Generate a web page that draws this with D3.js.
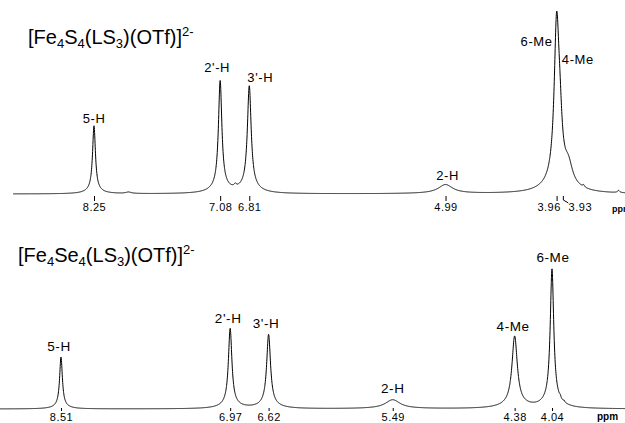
<!DOCTYPE html>
<html>
<head>
<meta charset="utf-8">
<script src="https://cdn.jsdelivr.net/npm/d3@7"></script>
<style>
  html, body { margin: 0; padding: 0; background: #fff; }
  svg { display: block; }
  text { font-family: "Liberation Sans", Arial, Helvetica, sans-serif; fill: #000; }
</style>
</head>
<body>
<svg id="chart" width="625" height="423"></svg>
<script>
// ---- [Fe4S4(LS3)(OTf)]2- : assigned resonances (ppm, relative intensity, half-width in ppm)
const s4Labels  = ["5-H", "2'-H", "3'-H", "2-H", "6-Me", "4-Me"];
const s4Shifts  = [8.25, 7.08, 6.81, 4.99, 3.96, 3.93];
const s4Heights = [37.6, 61.9, 59.1, 5.0, 87.3, 24.9];
const s4Widths  = [0.016, 0.019, 0.021, 0.080, 0.027, 0.026];
// small unassigned features of the same trace
const s4MinorShifts  = [7.93, 6.94, 3.85, 3.71, 3.385];
const s4MinorHeights = [0.8, 1.5, 11.0, 1.2, 1.2];
const s4MinorWidths  = [0.03, 0.012, 0.046, 0.01, 0.012];
const s4Window = [9.0, 3.32];          // ppm span of the recorded trace

// ---- [Fe4Se4(LS3)(OTf)]2-
const se4Labels  = ["5-H", "2'-H", "3'-H", "2-H", "4-Me", "6-Me"];
const se4Shifts  = [8.51, 6.97, 6.62, 5.49, 4.38, 4.04];
const se4Heights = [28.7, 44.2, 40.9, 5.0, 39.8, 76.8];
const se4Widths  = [0.015, 0.019, 0.021, 0.080, 0.029, 0.019];
const se4MinorShifts  = [3.965, 3.93];
const se4MinorHeights = [1.0, 0.8];
const se4MinorWidths  = [0.006, 0.006];
const se4Window = [9.065, 3.375];

// ---- layout (pixels) kept apart from the data
const panels = [
  {
    title: ["[Fe", "4", "S", "4", "(LS", "3", ")(OTf)]", "2-"],
    titleX: 28, titleY: 43.5,
    labels: s4Labels, shifts: s4Shifts, heights: s4Heights, widths: s4Widths,
    minorShifts: s4MinorShifts, minorHeights: s4MinorHeights, minorWidths: s4MinorWidths,
    window: s4Window,
    xAnchors: [8.25, 3.96], xPixels: [94, 556.6],
    baseline: 194, fullScale: 181,
    labelFont: 13,
    labelDx: [0, -3, 11, 2, -4, 2],
    labelDy: [-3, -9, -4, -5, 34, -4],
    labelAnchor: ["middle", "middle", "middle", "middle", "end", "start"],
    tickFont: 11, tickTop: 2, tickLen: 5, tickTextY: 17,
    tickDx: { "3.96": -8, "3.93": 20 },
    leader: "3.93",
    ppmX: 612, ppmY: 212, ppmFont: 9
  },
  {
    title: ["[Fe", "4", "Se", "4", "(LS", "3", ")(OTf)]", "2-"],
    titleX: 18, titleY: 262,
    labels: se4Labels, shifts: se4Shifts, heights: se4Heights, widths: se4Widths,
    minorShifts: se4MinorShifts, minorHeights: se4MinorHeights, minorWidths: se4MinorWidths,
    window: se4Window,
    xAnchors: [8.51, 4.04], xPixels: [61, 552],
    baseline: 409, fullScale: 181,
    labelFont: 13.5,
    labelDx: [-2, -2, -2.5, 0, -1.5, 1],
    labelDy: [-6, -5.5, -6.5, -7, -5, -7],
    labelAnchor: ["middle", "middle", "middle", "middle", "middle", "middle"],
    tickFont: 11, tickTop: -1, tickLen: 3, tickTextY: 11.5,
    tickDx: {},
    leader: null,
    ppmX: 597, ppmY: 419.5, ppmFont: 10
  }
];

// Lorentzian line with a weak broad skirt, unit height at its centre
const skirtFraction = 0.05, skirtScale = 5;
function line(ppm, c, w) {
  const d = (ppm - c) / w, e = d / skirtScale;
  return (1 - skirtFraction) / (1 + d * d) + skirtFraction / (1 + e * e);
}
function spectrum(ppm, p) {
  let s = 0;
  for (let i = 0; i < p.shifts.length; i++) s += p.heights[i] * line(ppm, p.shifts[i], p.widths[i]);
  for (let i = 0; i < p.minorShifts.length; i++) s += p.minorHeights[i] * line(ppm, p.minorShifts[i], p.minorWidths[i]);
  return s;
}

const svg = d3.select("#chart");

panels.forEach(p => {
  const x = d3.scaleLinear().domain(p.xAnchors).range(p.xPixels);
  const y = d3.scaleLinear().domain([0, 100]).range([p.baseline, p.baseline - p.fullScale]);

  // sample the trace finely (plus every line centre so apexes are exact)
  const n = 4000;
  const pts = d3.range(n + 1).map(i => p.window[0] + (p.window[1] - p.window[0]) * i / n)
    .concat(p.shifts, p.minorShifts)
    .sort((a, b) => b - a)
    .map(ppm => [ppm, spectrum(ppm, p)]);

  const g = svg.append("g");

  g.append("path")
    .datum(pts)
    .attr("fill", "none")
    .attr("stroke", "#000")
    .attr("stroke-width", 1)
    .attr("stroke-linejoin", "round")
    .attr("d", d3.line().x(d => x(d[0])).y(d => y(d[1])));

  // shift axis: short ticks under each assigned line
  const axis = d3.axisBottom(x)
    .tickValues(p.shifts)
    .tickSize(p.tickLen)
    .tickPadding(0)
    .tickFormat(d3.format(".2f"));

  const ax = g.append("g")
    .attr("transform", `translate(0,${p.baseline + p.tickTop})`)
    .call(axis);
  ax.select(".domain").remove();
  ax.selectAll(".tick line").attr("stroke", "#000").attr("stroke-width", 1);
  ax.selectAll(".tick text")
    .attr("fill", "#000")
    .attr("font-family", "'Liberation Sans', Arial, Helvetica, sans-serif")
    .attr("font-size", p.tickFont)
    .attr("letter-spacing", 0.5)
    .attr("dy", null)
    .attr("y", p.tickTextY - p.tickTop)
    .attr("x", d => p.tickDx[d.toFixed(2)] || 0);

  if (p.leader) {
    const t = ax.selectAll(".tick").filter(d => d.toFixed(2) === p.leader);
    t.select("line").attr("x1", 3).attr("x2", 3).attr("y2", 4);
    t.append("line")
      .attr("x1", 3).attr("y1", 4).attr("x2", 8).attr("y2", 7)
      .attr("stroke", "#000").attr("stroke-width", 1);
  }

  // resonance assignments
  g.selectAll("text.peak")
    .data(p.labels)
    .join("text")
    .attr("class", "peak")
    .attr("font-size", p.labelFont)
    .attr("letter-spacing", 0.6)
    .attr("text-anchor", (d, i) => p.labelAnchor[i])
    .attr("x", (d, i) => x(p.shifts[i]) + p.labelDx[i])
    .attr("y", (d, i) => y(spectrum(p.shifts[i], p)) + p.labelDy[i])
    .text(d => d);

  // unit label
  g.append("text")
    .attr("x", p.ppmX).attr("y", p.ppmY)
    .attr("font-size", p.ppmFont)
    .attr("font-weight", "bold")
    .text("ppm");

  // complex formula with sub/superscripts
  const title = g.append("text")
    .attr("x", p.titleX).attr("y", p.titleY)
    .attr("font-size", 20);
  let shift = 0;
  p.title.forEach((part, i) => {
    const isSup = i === p.title.length - 1;
    const isSub = !isSup && i % 2 === 1;
    const target = isSup ? -8 : isSub ? 4 : 0;
    title.append("tspan")
      .attr("font-size", isSup || isSub ? 13 : 20)
      .attr("dy", target - shift)
      .text(part);
    shift = target;
  });
});
</script>
</body>
</html>
